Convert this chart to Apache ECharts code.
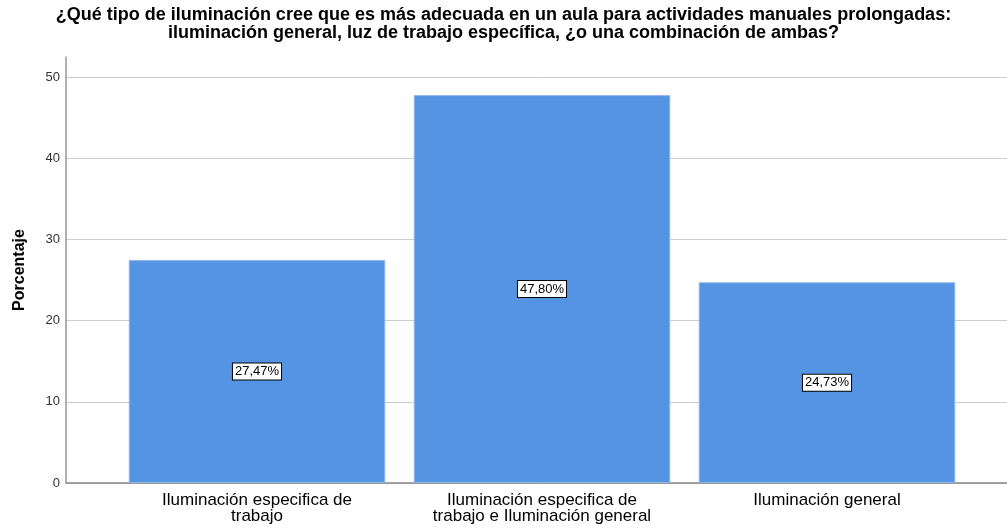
<!DOCTYPE html>
<html lang="es">
<head>
    <meta charset="UTF-8">
    <title>Iluminación</title>
    <script src="https://cdn.jsdelivr.net/npm/echarts@6/dist/echarts.min.js"></script>
    <style>
        *{margin:0;padding:0;}
        html,body{width:100%;height:100%;overflow:hidden;background:#fff;}
        .container{width:1007px;height:530px;}
    </style>
</head>
<body>
<div class="container"></div>
<script>
    const categories = ['Iluminación especifica de\ntrabajo', 'Iluminación especifica de\ntrabajo e Iluminación general', 'Iluminación general'];
    const values = [27.47, 47.80, 24.73];
    const yTicks = [0, 10, 20, 30, 40, 50];

    const titleText = '¿Qué tipo de iluminación cree que es más adecuada en un aula para actividades manuales prolongadas:\niluminación general, luz de trabajo específica, ¿o una combinación de ambas?';
    const font = '"Liberation Sans", Arial, sans-serif';

    let chart = echarts.init(document.querySelector('.container'));
    let yMax = 52.5;

    let options = {
        animation: false,
        title: {
            text: titleText,
            left: 'center',
            top: 1,
            textStyle: {fontFamily: font, fontSize: 18, fontWeight: 'bold', color: '#000', lineHeight: 18}
        },
        grid: [
            {left: 66, right: 0, top: 57, bottom: 47},
            {left: 114.5, right: 37.5, top: 57, bottom: 47}
        ],
        xAxis: [
            {
                type: 'category', gridIndex: 0, data: [''],
                axisLine: {lineStyle: {color: '#888', width: 1.5}},
                axisTick: {show: false}, axisLabel: {show: false}
            },
            {
                type: 'category', gridIndex: 1, data: categories,
                axisLine: {show: false}, axisTick: {show: false},
                axisLabel: {
                    fontFamily: font, fontSize: 17, color: '#000', lineHeight: 16, margin: 9,
                    interval: 0
                }
            }
        ],
        yAxis: [
            {
                type: 'value', gridIndex: 0, min: 0, max: yMax, interval: 10,
                name: 'Porcentaje', nameLocation: 'middle', nameGap: 38,
                nameTextStyle: {fontFamily: font, fontSize: 16, fontWeight: 'bold', color: '#000'},
                axisLine: {show: true, lineStyle: {color: '#999', width: 1.5}},
                axisTick: {show: false},
                axisLabel: {
                    fontFamily: font, fontSize: 13, color: '#333', margin: 6, showMaxLabel: false,
                    formatter: v => yTicks.includes(v) ? String(v) : ''
                },
                splitLine: {show: true, showMaxLine: false, lineStyle: {color: '#ccc', width: 1}}
            },
            {
                type: 'value', gridIndex: 1, min: 0, max: yMax, interval: 10, show: false,
                splitLine: {show: false}
            }
        ],
        series: [{
            type: 'bar',
            xAxisIndex: 1, yAxisIndex: 1,
            data: values,
            barCategoryGap: '10%',
            itemStyle: {color: '#5594e3', borderColor: '#8db4ec', borderWidth: 1},
            label: {
                show: true,
                position: 'inside',
                formatter: p => p.value.toFixed(2).replace('.', ',') + '%',
                fontFamily: font, fontSize: 13, color: '#000',
                backgroundColor: '#fff', borderColor: '#000', borderWidth: 1,
                padding: [2, 2, 1, 2]
            }
        }]
    };

    chart.setOption(options);
</script>
</body>
</html>
